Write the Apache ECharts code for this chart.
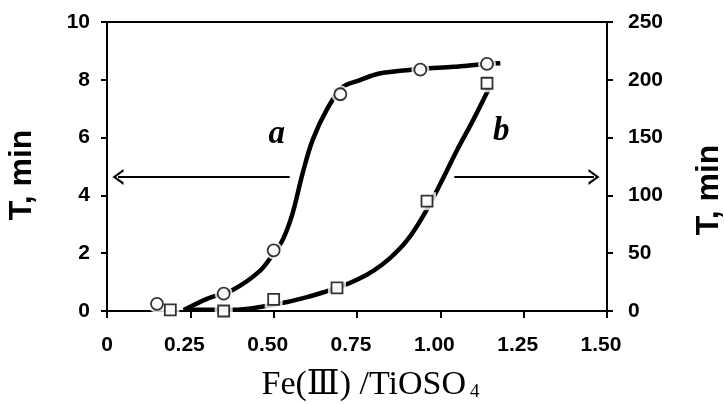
<!DOCTYPE html>
<html>
<head>
<meta charset="utf-8">
<script src="https://cdn.jsdelivr.net/npm/echarts@6/dist/echarts.min.js"></script>
<style>
  html, body { margin: 0; padding: 0; background: #fff; }
  #chart { width: 724px; height: 404px; }
</style>
</head>
<body>
<div id="chart"></div>
<script>
// Measured points: curve a (left axis, min) and curve b (right axis, min)
const circleX = [0.15, 0.35, 0.50, 0.70, 0.94, 1.14];
const circleT = [0.25, 0.6, 2.1, 7.5, 8.35, 8.55];
const squareX = [0.19, 0.35, 0.50, 0.69, 0.96, 1.14];
const squareT = [1, 0, 10, 20, 95, 197];

// Fitted trend lines
const curveAX = [0.23, 0.30, 0.377, 0.458, 0.50, 0.527, 0.557, 0.587, 0.617, 0.659, 0.707, 0.757, 0.817, 0.937, 1.04, 1.138, 1.18];
const curveAT = [0.03, 0.42, 0.73, 1.38, 2.0, 2.46, 3.39, 4.77, 5.92, 6.96, 7.75, 7.98, 8.22, 8.37, 8.45, 8.55, 8.57];
const curveBX = [0.23, 0.38, 0.45, 0.54, 0.60, 0.647, 0.70, 0.75, 0.80, 0.85, 0.90, 0.95, 1.00, 1.05, 1.10, 1.145];
const curveBT = [1, 1, 3, 7.8, 12, 16, 21, 27, 35, 46, 61, 83, 110, 139, 166, 192];

const xTickLabels = ['0', '0.25', '0.50', '0.75', '1.00', '1.25', '1.50'];
const leftTicks = ['0', '2', '4', '6', '8', '10'];
const rightTicks = ['0', '50', '100', '150', '200', '250'];

const pair = (xs, ys) => xs.map((x, i) => [x, ys[i]]);

const serif = 'Liberation Serif, DejaVu Serif, Times New Roman, serif';
const tickFont = { fontFamily: 'Liberation Sans, Arial, sans-serif', fontWeight: 'bold', fontSize: 21, color: '#000' };
// open arrowhead, tip pointing along the line
const chevron = 'path://M0,10L5,0L10,10L8.4,10L5,3.2L1.6,10Z';

const chart = echarts.init(document.getElementById('chart'), null, { renderer: 'canvas' });
chart.setOption({
  animation: false,
  backgroundColor: '#fff',
  grid: {
    left: 107, right: 117, top: 22, bottom: 93,
    containLabel: false, outerBoundsMode: 'none',
    show: true, borderColor: '#000', borderWidth: 2, backgroundColor: 'transparent'
  },
  xAxis: {
    type: 'value', min: 0, max: 1.5, interval: 0.25,
    name: '{m|Fe(Ⅲ) /TiOSO}{s|4}',
    nameLocation: 'middle', nameGap: 57,
    nameTextStyle: {
      padding: [0, 0, 0, 27],
      rich: {
        m: { fontFamily: serif, fontSize: 34, color: '#000' },
        s: { fontFamily: serif, fontSize: 19, color: '#000', padding: [0, 0, 0, 4], verticalAlign: 'bottom' }
      }
    },
    axisLine: { show: true, lineStyle: { color: '#000', width: 2 } },
    axisTick: { show: true, length: 7, lineStyle: { color: '#000', width: 2 } },
    axisLabel: Object.assign({
      margin: 24, padding: [0, 12, 0, 0],
      formatter: (v) => {
        const i = Math.round(v / 0.25);
        return i === 0 ? '{z|' + xTickLabels[0] + '}' : xTickLabels[i];
      },
      rich: { z: Object.assign({ padding: [0, 0, 0, 12] }, tickFont) }
    }, tickFont),
    splitLine: { show: false }
  },
  yAxis: [
    {
      type: 'value', min: 0, max: 10, interval: 2, position: 'left',
      name: 'T, min', nameLocation: 'middle', nameRotate: 90, nameGap: 69,
      nameTextStyle: { fontFamily: 'Liberation Sans, Arial, sans-serif', fontWeight: 'bold', fontSize: 32, color: '#000', padding: [0, 17, 0, 0] },
      axisLine: { show: true, lineStyle: { color: '#000', width: 2 } },
      axisTick: { show: true, length: 6, lineStyle: { color: '#000', width: 2 } },
      axisLabel: Object.assign({ margin: 17, formatter: (v) => leftTicks[Math.round(v / 2)] }, tickFont),
      splitLine: { show: false }
    },
    {
      type: 'value', min: 0, max: 250, interval: 50, position: 'right',
      name: 'T, min', nameLocation: 'middle', nameRotate: 90, nameGap: 86,
      nameTextStyle: { fontFamily: 'Liberation Sans, Arial, sans-serif', fontWeight: 'bold', fontSize: 32, color: '#000', padding: [0, 47, 0, 0] },
      axisLine: { show: true, lineStyle: { color: '#000', width: 2 } },
      axisTick: { show: true, length: 6, lineStyle: { color: '#000', width: 2 } },
      axisLabel: Object.assign({ margin: 21, formatter: (v) => rightTicks[Math.round(v / 50)] }, tickFont),
      splitLine: { show: false }
    }
  ],
  series: [
    {
      name: 'a', type: 'line', yAxisIndex: 0, z: 2,
      data: pair(curveAX, curveAT), smooth: 0.35,
      showSymbol: false, lineStyle: { color: '#000', width: 4.5 },
      silent: true,
      markPoint: {
        symbol: 'circle', symbolSize: 0, silent: true,
        label: { show: true, formatter: 'a', fontFamily: serif, fontStyle: 'italic', fontWeight: 'bold', fontSize: 33, color: '#000' },
        data: [{ coord: [0.509, 6.1] }]
      },
      markLine: {
        silent: true, symbol: ['none', chevron], symbolSize: [16, 11],
        label: { show: false },
        lineStyle: { color: '#000', width: 2, type: 'solid' },
        data: [
          [{ coord: [0.548, 4.64] }, { coord: [0.033, 4.64] }],
          [{ coord: [1.042, 4.64] }, { coord: [1.461, 4.64] }]
        ]
      }
    },
    {
      name: 'b', type: 'line', yAxisIndex: 1, z: 2,
      data: pair(curveBX, curveBT), smooth: 0.35,
      showSymbol: false, lineStyle: { color: '#000', width: 4.5 },
      silent: true,
      markPoint: {
        symbol: 'circle', symbolSize: 0, silent: true,
        label: { show: true, formatter: 'b', fontFamily: serif, fontStyle: 'italic', fontWeight: 'bold', fontSize: 33, color: '#000' },
        data: [{ coord: [1.183, 155] }]
      }
    },
    // white clearance around the markers
    { type: 'scatter', yAxisIndex: 0, z: 3, silent: true, symbol: 'circle', symbolSize: 18, itemStyle: { color: '#fff' }, data: pair(circleX, circleT) },
    { type: 'scatter', yAxisIndex: 1, z: 3, silent: true, symbol: 'rect', symbolSize: 18, itemStyle: { color: '#fff' }, data: pair(squareX, squareT) },
    // open markers
    { type: 'scatter', yAxisIndex: 0, z: 4, silent: true, symbol: 'circle', symbolSize: 12, itemStyle: { color: '#fff', borderColor: '#000', borderWidth: 1.8 }, data: pair(circleX, circleT) },
    { type: 'scatter', yAxisIndex: 1, z: 4, silent: true, symbol: 'rect', symbolSize: 11, itemStyle: { color: '#fff', borderColor: '#000', borderWidth: 1.8 }, data: pair(squareX, squareT) }
  ]
});
</script>
</body>
</html>
